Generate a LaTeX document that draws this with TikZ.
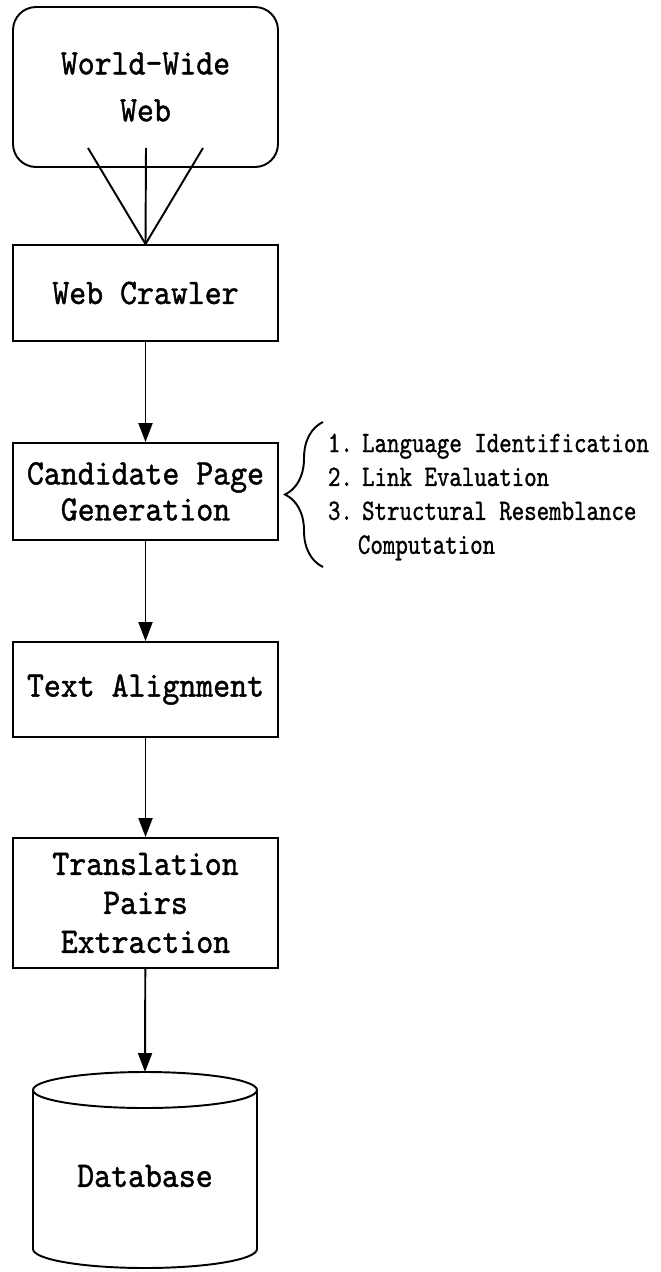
\documentclass[tikz,border=0pt]{standalone}
\usepackage{fontspec}
\newfontfamily\boxfont{lmmono10-regular.otf}[FakeStretch=0.9,FakeBold=1.2]
\newfontfamily\listfont{lmmono10-regular.otf}[FakeStretch=0.8,FakeBold=1]
\usetikzlibrary{arrows.meta,decorations.pathreplacing}
\tikzset{
	stage/.style={draw,align=center,minimum width=5.3cm,inner sep=0pt,
		font=\boxfont\fontsize{20.4pt}{20.5pt}\selectfont},
	steplist/.style={align=left,inner sep=0pt,
		font=\listfont\fontsize{16.9pt}{19.3pt}\selectfont}
}
\begin{document}
\begin{tikzpicture}[x=0.02cm,y=-0.02cm,line width=1.1pt,>={Triangle[length=3.8mm,width=2.8mm]}]
	\useasboundingbox (0,0) rectangle (660,1272);
	\node[stage,rounded corners=4.6mm,minimum height=3.2cm] (www) at (145.5,87) {World-Wide\\[6.2pt]Web};
	\node[stage,minimum height=1.92cm] (crawler) at (145.5,293) {Web Crawler};
	\node[stage,minimum height=1.94cm] (cand) at (145.5,491.5) {Candidate Page\\Generation};
	\node[stage,minimum height=1.9cm] (align) at (145.5,689.5) {Text Alignment};
	\node[stage,minimum height=2.6cm] (trans) at (145.5,903) {Translation\\[1.7pt]Pairs\\[1.7pt]Extraction};
	% crawler fan
	\foreach \i/\dx in {1/-57.5,2/0.5,3/57.5}
		\draw (www.south) ++(\dx,-20) coordinate (w\i) -- (crawler.north);
	\draw[->] (crawler) -- (cand);
	\draw[->] (cand) -- (align);
	\draw[->] (align) -- (trans);
	% database drum
	\coordinate (dbtop) at (145,1072);
	\draw (145,1090) ellipse[x radius=112,y radius=18];
	\draw (33,1090) -- (33,1249) arc[start angle=180,end angle=0,x radius=112,y radius=19] -- (257,1090);
	\node[font=\boxfont\fontsize{20.4pt}{20.5pt}\selectfont,inner sep=0pt] (db) at (145,1176) {Database};
	\draw[->] (trans) -- (dbtop);
	% method list
	\node[steplist,anchor=west] (steps) at (327,497) {1.\hspace{-.25em} Language Identification\\2.\hspace{-.25em} Link Evaluation\\3.\hspace{-.25em} Structural Resemblance\\\phantom{3.}\hspace{-.25em}\ Computation};
	\coordinate (bbot) at (323,567);
	\coordinate (btop) at (323,422);
	\draw[decorate,decoration={brace,amplitude=0.76cm}] (bbot) -- (btop);
\end{tikzpicture}
\end{document}
